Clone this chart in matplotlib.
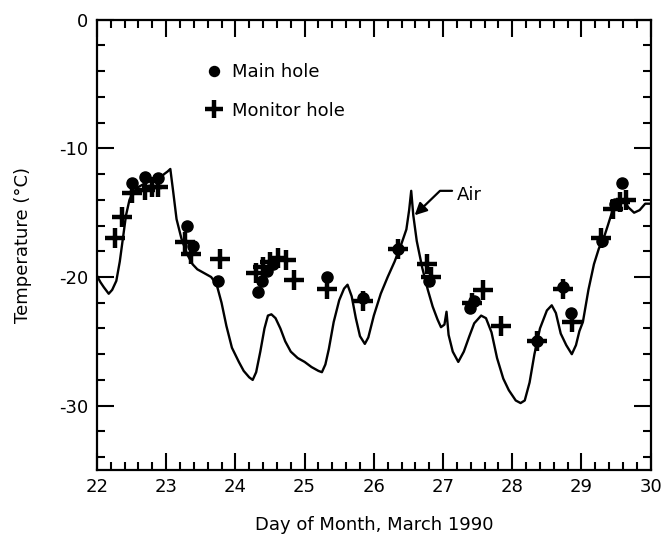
import matplotlib
matplotlib.use("Agg")
import matplotlib.pyplot as plt
from matplotlib.ticker import MultipleLocator

plt.rcParams["axes.unicode_minus"] = False

# Air temperature trace (day of month, deg C)
air_day = [22.00, 22.05, 22.10, 22.17, 22.22, 22.28, 22.33, 22.38, 22.42, 22.47,
           22.52, 22.60, 22.70, 22.80, 22.90, 22.97, 23.02, 23.06, 23.10, 23.15,
           23.22, 23.30, 23.38, 23.45, 23.55, 23.65, 23.73, 23.80, 23.87, 23.95,
           24.05, 24.12, 24.20, 24.25, 24.30, 24.36, 24.42, 24.47, 24.52, 24.58,
           24.65, 24.72, 24.80, 24.90, 25.00, 25.10, 25.20, 25.25, 25.30, 25.35,
           25.42, 25.50, 25.57, 25.62, 25.68, 25.74, 25.80, 25.87, 25.92, 26.00,
           26.10, 26.20, 26.30, 26.40, 26.47, 26.51, 26.54, 26.57, 26.62, 26.70,
           26.78, 26.85, 26.92, 26.97, 27.02, 27.05, 27.08, 27.14, 27.22, 27.30,
           27.38, 27.45, 27.55, 27.62, 27.70, 27.78, 27.87, 27.95, 28.05, 28.12,
           28.18, 28.25, 28.32, 28.40, 28.50, 28.57, 28.63, 28.70, 28.78, 28.86,
           28.92, 28.97, 29.02, 29.10, 29.18, 29.25, 29.32, 29.38, 29.45, 29.52,
           29.60, 29.68, 29.76, 29.84, 29.92, 30.00]
air_temp = [-19.9, -20.4, -20.8, -21.3, -21.0, -20.3, -18.8, -16.8, -15.2, -14.0,
            -13.4, -13.0, -12.7, -12.5, -12.4, -12.0, -11.8, -11.6, -13.3, -15.5,
            -17.0, -18.2, -19.0, -19.4, -19.7, -20.0, -20.6, -22.0, -23.8, -25.5,
            -26.6, -27.3, -27.8, -28.0, -27.4, -25.8, -24.0, -23.0, -22.9, -23.2,
            -24.0, -25.0, -25.8, -26.3, -26.6, -27.0, -27.3, -27.4, -26.8, -25.6,
            -23.5, -21.8, -20.9, -20.6, -21.5, -23.2, -24.6, -25.2, -24.7, -23.0,
            -21.3, -20.0, -18.8, -17.4, -16.3, -14.8, -13.3, -15.2, -17.2, -19.3,
            -21.0, -22.3, -23.3, -23.9, -23.7, -22.7, -24.5, -25.8, -26.6, -25.8,
            -24.6, -23.6, -23.0, -23.2, -24.3, -26.3, -27.9, -28.8, -29.6, -29.8,
            -29.6, -28.2, -26.0, -24.0, -22.6, -22.2, -22.8, -24.4, -25.3, -26.0,
            -25.3, -24.2, -23.5, -21.0, -19.0, -17.8, -17.0, -16.0, -14.8, -14.2,
            -14.0, -14.6, -15.0, -14.8, -14.3, -14.3]

# Main hole readings
main_day = [22.51, 22.69, 22.88, 23.30, 23.39, 23.75, 24.33, 24.38, 24.45, 24.55,
            25.32, 25.84, 26.35, 26.80, 27.39, 27.45, 28.35, 28.73, 28.85, 29.30,
            29.48, 29.58]
main_temp = [-12.7, -12.2, -12.3, -16.0, -17.6, -20.3, -21.2, -20.3, -19.5, -19.0,
             -20.0, -21.6, -17.8, -20.3, -22.4, -21.9, -25.0, -20.8, -22.8, -17.2,
             -14.3, -12.7]

# Monitor hole readings
mon_day = [22.26, 22.36, 22.51, 22.69, 22.79, 22.88, 23.27, 23.36, 23.78, 24.30,
           24.40, 24.50, 24.62, 24.73, 24.85, 25.32, 25.84, 26.35, 26.77, 26.82,
           27.42, 27.58, 27.83, 28.35, 28.73, 28.87, 29.28, 29.45, 29.55, 29.65]
mon_temp = [-17.0, -15.3, -13.5, -13.2, -13.0, -13.0, -17.3, -18.2, -18.6, -19.7,
            -19.2, -18.8, -18.5, -18.7, -20.2, -20.9, -21.9, -17.8, -19.0, -20.0,
            -22.0, -21.0, -23.8, -25.0, -20.9, -23.5, -17.0, -14.7, -14.2, -14.0]

fig = plt.figure(figsize=(6.64, 5.49), dpi=100)
ax = fig.add_axes([0.146, 0.144, 0.834, 0.820])

ax.plot(air_day, air_temp, color="black", lw=1.7, zorder=2)
ax.plot(main_day, main_temp, linestyle="none", marker="o", ms=8,
        color="black", label="Main hole", zorder=3)
ax.plot(mon_day, mon_temp, linestyle="none", marker="+", ms=14, mew=3.2,
        color="black", label="Monitor hole", zorder=3)

# "Air" label with elbow arrow pointing at the warm spike
ax.text(27.20, -13.6, "Air", fontsize=13, ha="left", va="center")
ax.annotate("", xy=(26.59, -15.2), xytext=(27.13, -13.3),
            arrowprops=dict(arrowstyle="-|>", color="black", lw=1.6,
                            mutation_scale=18, shrinkA=0, shrinkB=0,
                            connectionstyle="angle,angleA=0,angleB=44,rad=0"))

ax.set_xlim(22, 30)
ax.set_ylim(-35, 0)
ax.xaxis.set_major_locator(MultipleLocator(1))
ax.xaxis.set_minor_locator(MultipleLocator(0.2))
ax.yaxis.set_major_locator(MultipleLocator(10))
ax.yaxis.set_minor_locator(MultipleLocator(2))
ax.tick_params(which="both", direction="in", top=True, right=True,
               width=1.5, labelsize=13)
ax.tick_params(which="major", length=12, pad=6)
ax.tick_params(which="minor", length=6)
for sp in ax.spines.values():
    sp.set_linewidth(1.6)

ax.set_xlabel("Day of Month, March 1990", fontsize=13, labelpad=14)
ax.set_ylabel("Temperature (°C)", fontsize=13, labelpad=20)

leg = ax.legend(loc="upper left", bbox_to_anchor=(0.165, 0.94), frameon=False,
                fontsize=13, handletextpad=0.4, labelspacing=1.15,
                handlelength=1.1, markerscale=0.9)

fig.savefig("out.png", dpi=100)
